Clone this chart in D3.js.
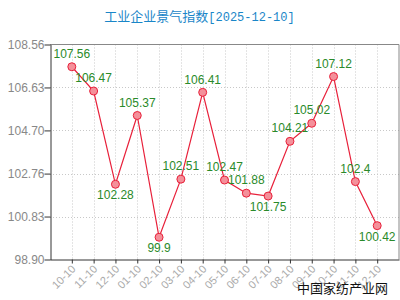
<!DOCTYPE html>
<html><head><meta charset="utf-8">
<script src="https://cdn.jsdelivr.net/npm/d3@7"></script>
<style>body{margin:0;background:#fff}svg{display:block}</style>
</head><body>
<svg id="c" width="400" height="300"></svg>
<script>
const titleMain = "工业企业景气指数";
const titleDate = "[2025-12-10]";
const categories = ["10-10","11-10","12-10","01-10","02-10","03-10","04-10","05-10","06-10","07-10","08-10","09-10","10-10","11-10","12-10"];
const values = [107.56,106.47,102.28,105.37,99.9,102.51,106.41,102.47,101.88,101.75,104.21,105.02,107.12,102.4,100.42];
const yTicks = [98.90,100.83,102.76,104.70,106.63,108.56];
const yDomain = [98.90,108.56];
const watermark = "中国家纺产业网";

const svg = d3.select("#c");
const L = 50, R = 399, T = 44.5, B = 259.5;
const keys = categories.map((c,i)=>i);
const x = d3.scalePoint().domain(keys).range([L,R]).padding(1);
const y = d3.scaleLinear().domain(yDomain).range([B,T]);

// grid
svg.append("g").selectAll("line.v").data(keys).join("line")
  .attr("x1",d=>Math.round(x(d))+0.5).attr("x2",d=>Math.round(x(d))+0.5)
  .attr("y1",T).attr("y2",B)
  .attr("stroke","#c8c8c8").attr("stroke-dasharray","1,2");
svg.append("g").selectAll("line.h").data(yTicks.slice(1,-1)).join("line")
  .attr("x1",L).attr("x2",R)
  .attr("y1",d=>Math.round(y(d))+0.5).attr("y2",d=>Math.round(y(d))+0.5)
  .attr("stroke","#c8c8c8").attr("stroke-dasharray","1,2");

// frame top/right
svg.append("path").attr("d",`M${L},${T}H${R}V${B}`).attr("fill","none").attr("stroke","#888");

// y axis
const ya = svg.append("g").attr("transform",`translate(${L+0.5},0)`)
  .call(d3.axisLeft(y).tickValues(yTicks).tickFormat(d3.format(".2f")).tickSize(6).tickSizeOuter(0));
ya.select(".domain").attr("stroke","#333");
ya.selectAll(".tick line").attr("stroke","#333");
ya.selectAll(".tick text").attr("fill","#888").attr("font-family","Arial, 'Liberation Sans', sans-serif").attr("font-size","12px").attr("x",-6);

// x axis
const xa = svg.append("g").attr("transform",`translate(0,${B})`)
  .call(d3.axisBottom(x).tickFormat(i=>categories[i]).tickSize(4).tickSizeOuter(0));
xa.select(".domain").attr("stroke","#333");
xa.selectAll(".tick line").attr("stroke","#333");
xa.selectAll(".tick text").attr("fill","#aaa").attr("font-family","Arial, 'Liberation Sans', sans-serif").attr("font-size","11px")
  .attr("text-anchor","end").attr("dy",null).attr("y",null)
  .attr("transform","translate(2,8) rotate(-45)").attr("dominant-baseline","middle");

// line
const line = d3.line().x((d,i)=>x(i)).y(d=>y(d));
svg.append("path").datum(values).attr("d",line).attr("fill","none").attr("stroke","#e8203a").attr("stroke-width",1.2);
svg.append("g").selectAll("circle").data(values).join("circle")
  .attr("cx",(d,i)=>x(i)).attr("cy",d=>y(d)).attr("r",4)
  .attr("fill","#f4909a").attr("stroke","#e8203a").attr("stroke-width",1);

// labels
const isLow = (i)=>{
  const v=values[i], p=values[i-1], n=values[i+1];
  return (p===undefined||v<p)&&(n===undefined||v<n);
};
svg.append("g").selectAll("text").data(values).join("text")
  .attr("x",(d,i)=>x(i)).attr("y",(d,i)=>y(d)+(isLow(i)?12:-12))
  .attr("dominant-baseline","middle").attr("text-anchor","middle")
  .attr("fill","#2a8a2a").attr("font-family","Arial, 'Liberation Sans', sans-serif").attr("font-size","12px")
  .text(d=>d);

// title
const tt = svg.append("text").attr("x",199.5).attr("y",21).attr("text-anchor","middle")
  .attr("fill","#1a86c8").attr("font-size","13px").attr("font-family","'Noto Sans CJK SC', sans-serif");
tt.append("tspan").text(titleMain);
tt.append("tspan").attr("font-family","'Liberation Mono', 'DejaVu Sans Mono', monospace").attr("font-size","12px").text(titleDate);

// watermark
svg.append("text").attr("x",388).attr("y",293).attr("text-anchor","end")
  .attr("fill","#111").attr("font-size","13px").attr("font-family","'Noto Sans CJK SC', sans-serif").text(watermark);
</script>
</body></html>
